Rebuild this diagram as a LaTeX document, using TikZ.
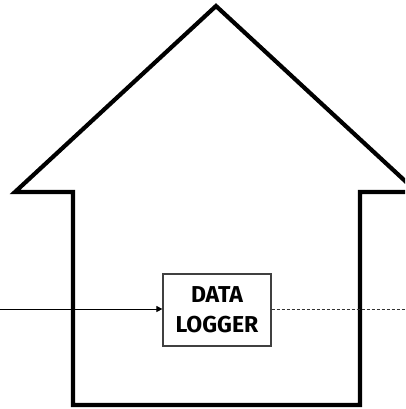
\documentclass[tikz,border=0pt]{standalone}
\usepackage{fontspec}
\setmainfont{Fira Sans}
\usetikzlibrary{arrows.meta}
\tikzset{
  house/.style={draw=black,line width=4.2pt,line join=miter},
  loggerbox/.style={draw=black!75,line width=1.2pt,fill=white,minimum width=108pt,minimum height=72pt,inner sep=0pt,align=center,font=\fontsize{23}{30}\selectfont\bfseries},
  inarrow/.style={draw=black,line width=0.9pt,-{Triangle[length=6pt,width=6pt]}},
  outline/.style={draw=black!80,line width=0.8pt,dashed,dash pattern=on 3pt off 2pt}
}
\begin{document}
\begin{tikzpicture}[x=1pt,y=-1pt]
\useasboundingbox (0,0) rectangle (405,409);
\clip (0,0) rectangle (405,409);
\draw[house] (15,192) -- (216,6) -- (417,192) -- (360,192) -- (360,405) -- (73,405) -- (73,192) -- cycle;
\node[loggerbox] (logger) at (217,310) {DATA\\LOGGER};
\coordinate (src) at (0,309);
\coordinate (dst) at (405,309);
\draw[inarrow] (src) -- (logger.west |- src);
\draw[outline] (logger.east |- dst) -- (dst);
\end{tikzpicture}
\end{document}
